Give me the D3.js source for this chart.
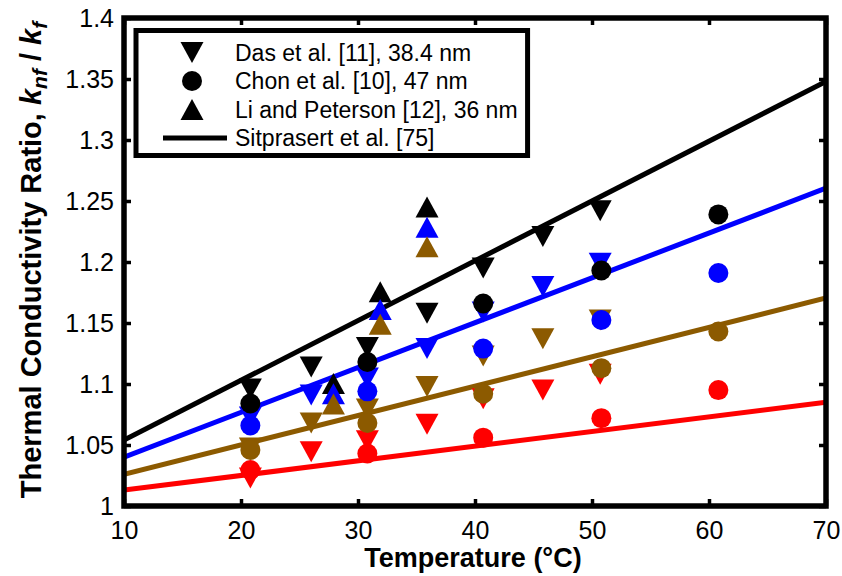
<!DOCTYPE html>
<html>
<head>
<meta charset="utf-8">
<script src="https://cdn.jsdelivr.net/npm/d3@7"></script>
<style>
  html, body { margin: 0; padding: 0; background: #fff; }
  svg { display: block; font-family: "Liberation Sans", Arial, sans-serif; }
</style>
</head>
<body>
<svg id="chart" width="842" height="576"></svg>
<script>
// ---------------- data ----------------
const seriesColors = ["#000000", "#0000ff", "#8c5a00", "#ff0000"];

// Das et al. [11], 38.4 nm (down triangles)
const dasTemps = [20.8, 26, 30.8, 35.9, 40.7, 45.8, 50.7];
const dasBlack = [1.096, 1.114, 1.130, 1.158, 1.195, 1.221, 1.242];
const dasBlue  = [1.073, 1.091, 1.105, 1.129, 1.159, 1.180, 1.199];
const dasBrown = [1.0475, 1.068, 1.0795, 1.098, 1.123, 1.137, 1.1525];
const dasRed   = [1.023, 1.0445, 1.0535, 1.067, 1.088, 1.095, 1.108];

// Chon et al. [10], 47 nm (circles)
const chonTemps = [20.8, 30.8, 40.7, 50.8, 60.8];
const chonBlack = [1.084, 1.118, 1.166, 1.193, 1.239];
const chonBlue  = [1.066, 1.094, 1.129, 1.1525, 1.191];
const chonBrown = [1.046, 1.068, 1.092, 1.113, 1.143];
const chonRed   = [1.0295, 1.043, 1.056, 1.072, 1.095];

// Li and Peterson [12], 36 nm (up triangles)
const liTemps = [27.9, 31.9, 35.9];
const liBlack = [1.1005, 1.1757, 1.245];
const liBlue  = [1.092, 1.161, 1.2285];
const liBrown = [1.0836, 1.149, 1.2126];

// Sitprasert et al. [75] (lines)
const modelTemps = [10, 70];
const modelBlack = [1.054, 1.348];
const modelBlue  = [1.040, 1.2605];
const modelBrown = [1.026, 1.1705];
const modelRed   = [1.013, 1.085];

const xTicks = [10, 20, 30, 40, 50, 60, 70];
const yTicks = [1, 1.05, 1.1, 1.15, 1.2, 1.25, 1.3, 1.35, 1.4];
const yTickLabels = ["1", "1.05", "1.1", "1.15", "1.2", "1.25", "1.3", "1.35", "1.4"];

const legendLabels = ["Das et al. [11], 38.4 nm", "Chon et al. [10], 47 nm",
                      "Li and Peterson [12], 36 nm", "Sitprasert et al. [75]"];

// ---------------- layout ----------------
const L = 124, R = 826, T = 18, B = 506;
const svg = d3.select("#chart");
const x = d3.scaleLinear().domain([10, 70]).range([L, R]);
const y = d3.scaleLinear().domain([1, 1.4]).range([B, T]);

svg.append("defs").append("clipPath").attr("id", "clip")
  .append("rect").attr("x", L).attr("y", T).attr("width", R - L).attr("height", B - T);

const plot = svg.append("g").attr("clip-path", "url(#clip)");

// model lines
const models = [modelBlack, modelBlue, modelBrown, modelRed];
const lineGen = d3.line().x((d) => x(d[0])).y((d) => y(d[1]));
models.forEach((vals, i) => {
  plot.append("path")
    .attr("d", lineGen(modelTemps.map((t, j) => [t, vals[j]])))
    .attr("fill", "none").attr("stroke", seriesColors[i]).attr("stroke-width", 5);
});

// marker shapes
const TW = 11.5, TH = 10.5;
const downTri = `M${-TW},${-TH}L${TW},${-TH}L0,${TH}Z`;
const upTri = `M${-TW},${TH}L${TW},${TH}L0,${-TH}Z`;
const circR = 10;

const das = [dasBlack, dasBlue, dasBrown, dasRed];
das.forEach((vals, i) => {
  plot.append("g").selectAll("path").data(vals).join("path")
    .attr("d", downTri)
    .attr("transform", (d, j) => `translate(${x(dasTemps[j])},${y(d)})`)
    .attr("fill", seriesColors[i]);
});
const chon = [chonBlack, chonBlue, chonBrown, chonRed];
chon.forEach((vals, i) => {
  plot.append("g").selectAll("circle").data(vals).join("circle")
    .attr("cx", (d, j) => x(chonTemps[j])).attr("cy", (d) => y(d))
    .attr("r", circR).attr("fill", seriesColors[i]);
});
const li = [liBlack, liBlue, liBrown];
li.forEach((vals, i) => {
  plot.append("g").selectAll("path").data(vals).join("path")
    .attr("d", upTri)
    .attr("transform", (d, j) => `translate(${x(liTemps[j])},${y(d)})`)
    .attr("fill", seriesColors[i]);
});

// ---------------- axes ----------------
const tickLen = 7;
const axFont = "25px";
const gx = svg.append("g").attr("transform", `translate(0,${B})`)
  .call(d3.axisBottom(x).tickValues(xTicks).tickSize(-tickLen).tickPadding(15).tickFormat(d3.format("d")));
const gy = svg.append("g").attr("transform", `translate(${L},0)`)
  .call(d3.axisLeft(y).tickValues(yTicks).tickSize(-tickLen).tickPadding(10).tickFormat((d, i) => yTickLabels[i]));
const gt = svg.append("g").attr("transform", `translate(0,${T})`)
  .call(d3.axisTop(x).tickValues(xTicks).tickSize(-tickLen).tickFormat(""));
const gr = svg.append("g").attr("transform", `translate(${R},0)`)
  .call(d3.axisRight(y).tickValues(yTicks).tickSize(-tickLen).tickFormat(""));
[gx, gy, gt, gr].forEach((g) => {
  g.select(".domain").remove();
  g.selectAll(".tick line").attr("stroke", "#000").attr("stroke-width", 3.5);
  g.selectAll(".tick text").attr("fill", "#000").style("font-size", axFont)
    .style("font-family", '"Liberation Sans", Arial, sans-serif');
});

// frame
svg.append("rect").attr("x", L).attr("y", T).attr("width", R - L).attr("height", B - T)
  .attr("fill", "none").attr("stroke", "#000").attr("stroke-width", 5.5);

// axis titles
svg.append("text").attr("x", (L + R) / 2 - 2).attr("y", 567)
  .attr("text-anchor", "middle").style("font-size", "27px").style("font-weight", "bold")
  .text("Temperature (°C)");

const yl = svg.append("text").attr("transform", `translate(41,${(T + B) / 2 - 2}) rotate(-90)`)
  .attr("text-anchor", "middle").style("font-size", "29px").style("font-weight", "bold");
yl.append("tspan").text("Thermal Conductivity Ratio, ");
yl.append("tspan").style("font-style", "italic").text("k");
yl.append("tspan").style("font-style", "italic").style("font-size", "21px").attr("dy", "6").text("nf");
yl.append("tspan").attr("dy", "-6").text(" / ");
yl.append("tspan").style("font-style", "italic").text("k");
yl.append("tspan").style("font-style", "italic").style("font-size", "21px").attr("dy", "6").text("f");

// ---------------- legend ----------------
const lg = svg.append("g");
const rowY = [52.5, 81, 109.5, 138];
const mx = 192;
const legRect = lg.append("rect").attr("x", 136).attr("y", 30.5).attr("height", 125)
  .attr("fill", "#fff").attr("stroke", "#000").attr("stroke-width", 5);
lg.append("path").attr("d", downTri).attr("transform", `translate(${mx},${rowY[0]})`).attr("fill", "#000");
lg.append("circle").attr("cx", mx).attr("cy", rowY[1]).attr("r", circR).attr("fill", "#000");
lg.append("path").attr("d", upTri).attr("transform", `translate(${mx},${rowY[2]})`).attr("fill", "#000");
lg.append("line").attr("x1", 163).attr("x2", 227).attr("y1", rowY[3]).attr("y2", rowY[3])
  .attr("stroke", "#000").attr("stroke-width", 5);
const labs = lg.selectAll("text.lab").data(legendLabels).join("text").attr("class", "lab")
  .attr("x", 235).attr("y", (d, i) => rowY[i] + 8)
  .style("font-size", "23px").text((d) => d);
let maxEnd = 0;
labs.each(function () { const b = this.getBBox(); maxEnd = Math.max(maxEnd, b.x + b.width); });
legRect.attr("width", maxEnd + 10 - 136);
</script>
</body>
</html>
